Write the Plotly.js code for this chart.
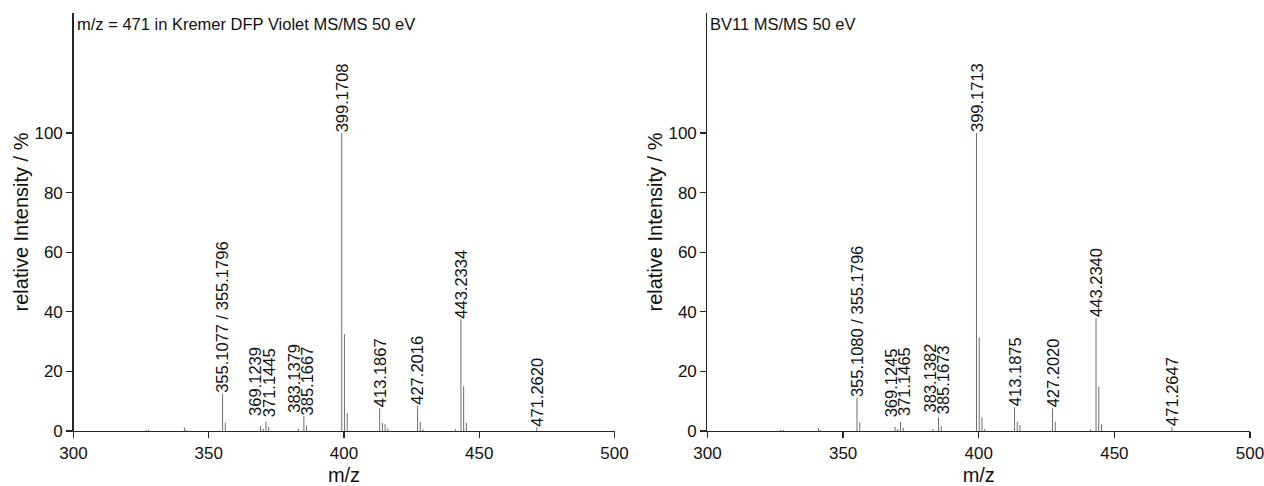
<!DOCTYPE html>
<html>
<head>
<meta charset="utf-8">
<script src="https://cdn.plot.ly/plotly-3.0.1.min.js"></script>
<style>html,body{margin:0;padding:0;background:#fff;}#chart{width:1264px;height:486px;}</style>
</head>
<body>
<div id="chart"></div>
<script>
// ---- Data ----
var leftTitle = 'm/z = 471 in Kremer DFP Violet MS/MS 50 eV';
var rightTitle = 'BV11 MS/MS 50 eV';

var leftMz  = [326.8, 327.7, 341.0, 341.6, 355.1077, 356.11, 369.1239, 370.13, 371.1445, 372.15, 383.1379, 385.1667, 386.17, 399.1708, 400.17, 401.18, 413.1867, 414.19, 415.19, 416.2, 427.2016, 428.2, 429.2, 441.2, 443.2334, 444.24, 445.24, 471.2620];
var leftInt = [0.4,   0.4,   1.2,   0.4,   12.5,     2.8,    1.7,      0.8,    3.1,      1.3,    0.7,      5.0,      1.8,    100,      32.5,   6.0,    7.7,      2.8,    2.3,    0.8,   8.5,      3.0,   0.5,   0.6,   37.5,     15.0,   2.8,    1.2];
var leftLabelMz   = [355.1077, 369.1239, 371.1445, 383.1379, 385.1667, 399.1708, 413.1867, 427.2016, 443.2334, 471.2620];
var leftLabelText = ['355.1077 / 355.1796', '369.1239', '371.1445', '383.1379', '385.1667', '399.1708', '413.1867', '427.2016', '443.2334', '471.2620'];

var rightMz  = [327.0, 327.9, 340.9, 341.5, 355.1080, 356.11, 369.1245, 370.13, 371.1465, 372.15, 383.1382, 385.1673, 386.17, 399.1713, 400.17, 401.18, 402.18, 413.1875, 414.19, 415.19, 427.2020, 428.2, 441.2, 443.2340, 444.24, 445.24, 471.2647];
var rightInt = [0.4,   0.4,   1.0,   0.3,   11.2,     2.8,    1.4,      0.7,    3.0,      1.0,    0.7,      4.6,      1.7,    100,      31.4,   4.6,    0.6,    8.0,      3.1,    2.0,    7.6,      3.1,   0.6,   37.8,     14.9,   2.3,    1.2];
var rightLabelMz   = [355.1080, 369.1245, 371.1465, 383.1382, 385.1673, 399.1713, 413.1875, 427.2020, 443.2340, 471.2647];
var rightLabelText = ['355.1080 / 355.1796', '369.1245', '371.1465', '383.1382', '385.1673', '399.1713', '413.1875', '427.2020', '443.2340', '471.2647'];

var xTicks = [300, 350, 400, 450, 500];
var yTicks = [0, 20, 40, 60, 80, 100];

// ---- Styling / layout (not data) ----
var labelShift = {
  left:  {'369.1239': [-5, 9], '371.1445': [3, 4], '383.1379': [-4, 15], '385.1667': [3, 0]},
  right: {'369.1245': [-4, 9], '371.1465': [3, 5], '383.1382': [-3, 15], '385.1673': [4, 2]}
};
var FONT = 'Liberation Sans, Arial, sans-serif';
var AX = '#262626';

function sticks(mz, inten, xa, ya) {
  var xs = [], ys = [];
  for (var i = 0; i < mz.length; i++) { xs.push(mz[i], mz[i], null); ys.push(0, inten[i], null); }
  return {x: xs, y: ys, xaxis: xa, yaxis: ya, type: 'scatter', mode: 'lines',
          line: {color: '#6e6e6e', width: 1}, hoverinfo: 'skip', showlegend: false};
}
function labels(lmz, ltxt, mz, inten, xr, yr, shifts) {
  var out = [];
  for (var i = 0; i < lmz.length; i++) {
    var idx = mz.indexOf(lmz[i]);
    var s = shifts[ltxt[i]] || [0, 0];
    out.push({x: lmz[i], y: inten[idx], xref: xr, yref: yr, text: ltxt[i], textangle: -90,
      showarrow: false, xanchor: 'center', yanchor: 'bottom', xshift: s[0], yshift: s[1],
      borderpad: 0, font: {family: FONT, size: 16.5, color: '#111'}});
  }
  return out;
}
function xaxis(dom, anchor) {
  return {domain: dom, anchor: anchor, range: [300, 500], tickvals: xTicks, ticks: 'outside', ticklen: 6,
    tickwidth: 1.3, tickcolor: AX, showline: true, linecolor: AX, linewidth: 1.3, showgrid: false,
    zeroline: false, ticklabeloverflow: 'allow', tickfont: {family: FONT, size: 17, color: '#111'},
    title: {text: 'm/z', font: {family: FONT, size: 20, color: '#111'}, standoff: 17}};
}
function yaxis(anchor) {
  return {domain: [0.1132, 0.9733], anchor: anchor, range: [0, 140.3], tickvals: yTicks, ticks: 'outside',
    ticklen: 6, tickwidth: 1.3, tickcolor: AX, showline: true, linecolor: AX, linewidth: 1.3, showgrid: false,
    zeroline: false, ticklabeloverflow: 'allow', tickfont: {family: FONT, size: 17, color: '#111'},
    title: {text: 'relative Intensity / %', font: {family: FONT, size: 20, color: '#111'}, standoff: 0}};
}

var data = [sticks(leftMz, leftInt, 'x', 'y'), sticks(rightMz, rightInt, 'x2', 'y2')];
var ann = labels(leftLabelMz, leftLabelText, leftMz, leftInt, 'x', 'y', labelShift.left)
  .concat(labels(rightLabelMz, rightLabelText, rightMz, rightInt, 'x2', 'y2', labelShift.right));
ann.push({text: leftTitle, xref: 'x domain', yref: 'y domain', x: 0, y: 1, xanchor: 'left', yanchor: 'top',
  showarrow: false, xshift: 1, font: {family: FONT, size: 16.5, color: '#111'}});
ann.push({text: rightTitle, xref: 'x2 domain', yref: 'y2 domain', x: 0, y: 1, xanchor: 'left', yanchor: 'top',
  showarrow: false, xshift: 1, font: {family: FONT, size: 16.5, color: '#111'}});

var layout = {
  width: 1264, height: 486, margin: {l: 0, r: 0, t: 0, b: 0},
  paper_bgcolor: '#fff', plot_bgcolor: '#fff', showlegend: false,
  font: {family: FONT, color: '#111'},
  xaxis: xaxis([0.05815, 0.48616], 'y'), yaxis: yaxis('x'),
  xaxis2: xaxis([0.55973, 0.98892], 'y2'), yaxis2: yaxis('x2'),
  annotations: ann
};
Plotly.newPlot('chart', data, layout, {staticPlot: true, displayModeBar: false});
</script>
</body>
</html>
